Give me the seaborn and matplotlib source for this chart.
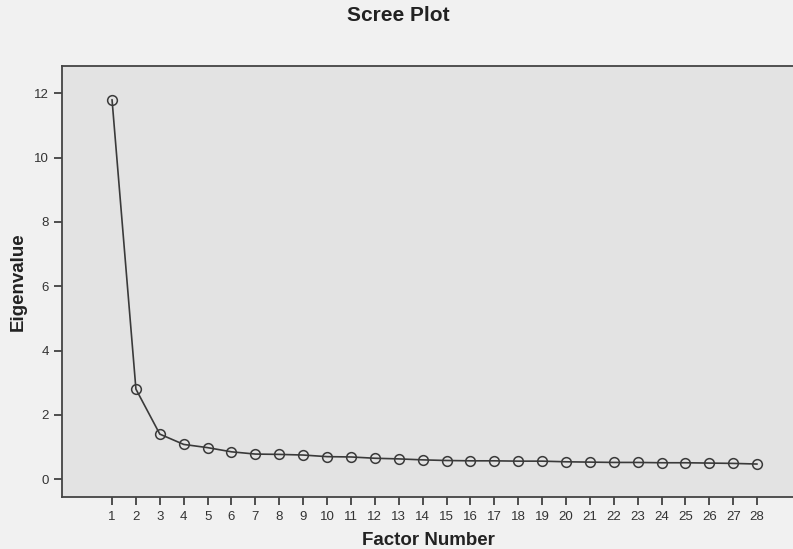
import matplotlib
matplotlib.use("Agg")
import matplotlib.pyplot as plt
import seaborn as sns
import pandas as pd

factors = list(range(1, 29))
eigenvalues = [11.8, 2.8, 1.4, 1.08, 0.98, 0.85, 0.78, 0.77, 0.75, 0.70,
               0.69, 0.65, 0.63, 0.60, 0.58, 0.57, 0.57, 0.56, 0.56, 0.54,
               0.53, 0.52, 0.52, 0.51, 0.51, 0.50, 0.49, 0.47]
y_ticks = [0, 2, 4, 6, 8, 10, 12]

df = pd.DataFrame({"Factor Number": factors, "Eigenvalue": eigenvalues})

sns.set_style("ticks")
plt.rcParams['font.family'] = ['Liberation Sans', 'DejaVu Sans']

fig = plt.figure(figsize=(7.93, 5.49), dpi=100, facecolor="#f1f1f1")
ax = fig.add_axes([0.078, 0.095, 0.925, 0.785])
ax.set_facecolor("#e3e3e3")

sns.lineplot(data=df, x="Factor Number", y="Eigenvalue", ax=ax,
             color="#3a3a3a", linewidth=1.2, marker="o", markersize=7,
             markerfacecolor="none", markeredgecolor="#3a3a3a",
             markeredgewidth=1.1)

ax.set_xlim(-1.1, 29.6)
ax.set_ylim(-0.55, 12.85)
ax.set_xticks(factors)
ax.set_xticklabels([str(f) for f in factors])
ax.set_yticks(y_ticks)
ax.tick_params(axis="both", direction="out", length=6, width=1.2,
               color="#333333", labelsize=9.5, labelcolor="#333333")
ax.tick_params(axis="x", pad=4)
for side in ["left", "bottom", "top"]:
    ax.spines[side].set_color("#444444")
    ax.spines[side].set_linewidth(1.3)
ax.spines["right"].set_visible(False)

ax.set_xlabel("Factor Number", fontsize=13.5, fontweight="bold", color="#222222", labelpad=7)
ax.set_ylabel("Eigenvalue", fontsize=13.5, fontweight="bold", color="#222222", labelpad=5)
fig.text(0.502, 0.971, "Scree Plot", ha="center", va="center",
         fontsize=15, fontweight="bold", color="#222222")

fig.savefig("out.png", dpi=100, facecolor=fig.get_facecolor())
